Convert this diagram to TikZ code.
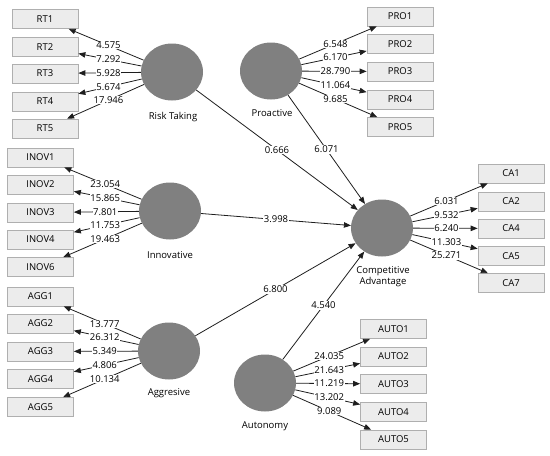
\documentclass[tikz,border=0pt]{standalone}
\usepackage{fontspec}
\setmainfont{Open Sans}
\usetikzlibrary{shapes.geometric,calc,arrows.meta}
\definecolor{lvgray}{RGB}{128,128,128}
\definecolor{boxfill}{RGB}{236,236,236}
\definecolor{boxline}{RGB}{175,175,175}
\definecolor{linec}{RGB}{30,30,30}
\begin{document}
\begin{tikzpicture}[x=1pt,y=-1pt,
  lv/.style={ellipse, fill=lvgray, minimum width=62pt, minimum height=57pt, inner sep=0pt},
  ind/.style={rectangle, draw=boxline, fill=boxfill, line width=0.7pt, minimum width=66pt, minimum height=19pt, inner sep=0pt, font=\fontsize{9.5}{10}\selectfont},
  arr/.style={draw=linec, line width=0.8pt, -{Triangle[length=7pt,width=5.5pt]}},
  lbl/.style={fill=white, inner sep=0.5pt, font=\fontsize{9.5}{10}\selectfont},
  captxt/.style={align=center, inner sep=0pt, font=\fontsize{9.5}{11}\selectfont}]
\useasboundingbox (0,0) rectangle (550,456);
% latent variables
\node[lv] (rt) at (172,72) {};
\node[lv] (pro) at (271,71) {};
\node[lv] (inov) at (170,211) {};
\node[lv] (agg) at (169,351) {};
\node[lv] (auto) at (265,383) {};
\node[lv] (ca) at (382,228) {};
% captions
\node[captxt] (rtc) at (173,117) {Risk Taking};
\node[captxt] (proc) at (272,113) {Proactive};
\node[captxt] (inovc) at (170,255) {Innovative};
\node[captxt] (aggc) at (169,393) {Aggresive};
\node[captxt] (autoc) at (265,426) {Autonomy};
\node[captxt] (cac) at (383,276.5) {Competitive\\Advantage};
% indicators
\foreach \n/\y in {1/19,2/47,3/73.5,4/101.5,5/128.5}
  \node[ind] (rt\n) at (45,\y) {RT\n};
\foreach \n/\y in {1/157.5,2/184.5,3/212.5,4/239.5,6/267}
  \node[ind] (inov\n) at (40.5,\y) {INOV\n};
\foreach \n/\y in {1/296.5,2/323.5,3/351.5,4/379,5/407}
  \node[ind] (agg\n) at (40.5,\y) {AGG\n};
\foreach \n/\y in {1/16.5,2/44,3/71.5,4/99.5,5/127}
  \node[ind] (pro\n) at (400,\y) {PRO\n};
\foreach \n/\y in {1/173.5,2/201.5,4/228.5,5/256,7/283}
  \node[ind] (ca\n) at (511,\y) {CA\n};
\foreach \n/\y in {1/329,2/356.5,3/384,4/412,5/439.5}
  \node[ind] (auto\n) at (393.5,\y) {AUTO\n};
% structural paths
\foreach \s in {rt,pro,inov,agg,auto}
  \draw[arr] (\s) -- (ca);
\node[lbl] (lrtca) at ($(rt)!0.5!(ca)$) {0.666};
\node[lbl] (lproca) at ($(pro)!0.5!(ca)$) {6.071};
\node[lbl] (linovca) at ($(inov)!0.5!(ca)$) {3.998};
\node[lbl] (laggca) at ($(agg)!0.5!(ca)$) {6.800};
\node[lbl] (lautoca) at ($(auto)!0.5!(ca)$) {4.540};
% measurement paths
\foreach \n in {1,2,3,4,5} \draw[arr] (rt) -- (rt\n);
\foreach \n/\v in {1/4.575,2/7.292,3/5.928,4/5.674,5/17.946}
  \node[lbl] (lrt\n) at ($(rt)!0.5!(rt\n)$) {\v};
\foreach \n in {1,2,3,4,6} \draw[arr] (inov) -- (inov\n);
\foreach \n/\v in {1/23.054,2/15.865,3/7.801,4/11.753,6/19.463}
  \node[lbl] (linov\n) at ($(inov)!0.5!(inov\n)$) {\v};
\foreach \n in {1,2,3,4,5} \draw[arr] (agg) -- (agg\n);
\foreach \n/\v in {1/13.777,2/26.312,3/5.349,4/4.806,5/10.134}
  \node[lbl] (lagg\n) at ($(agg)!0.5!(agg\n)$) {\v};
\foreach \n in {1,2,3,4,5} \draw[arr] (pro) -- (pro\n);
\foreach \n/\v in {1/6.548,2/6.170,3/28.790,4/11.064,5/9.685}
  \node[lbl] (lpro\n) at ($(pro)!0.5!(pro\n)$) {\v};
\foreach \n in {1,2,4,5,7} \draw[arr] (ca) -- (ca\n);
\foreach \n/\v in {1/6.031,2/9.532,4/6.240,5/11.303,7/25.271}
  \node[lbl] (lca\n) at ($(ca)!0.5!(ca\n)$) {\v};
\foreach \n in {1,2,3,4,5} \draw[arr] (auto) -- (auto\n);
\foreach \n/\v in {1/24.035,2/21.643,3/11.219,4/13.202,5/9.089}
  \node[lbl] (lauto\n) at ($(auto)!0.5!(auto\n)$) {\v};
\end{tikzpicture}
\end{document}
